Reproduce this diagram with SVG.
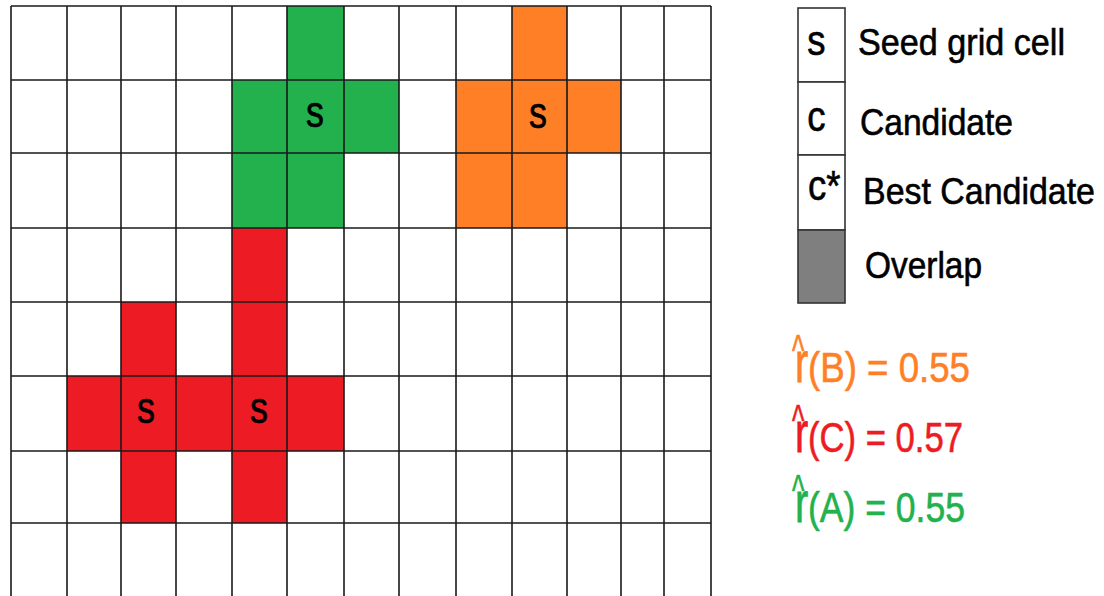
<svg xmlns="http://www.w3.org/2000/svg" width="1104" height="596" viewBox="0 0 1104 596">
<style>
.g{fill:#22B14C}
.o{fill:#FF7F27}
.r{fill:#ED1C24}
.ln{stroke:#1a1a1a;stroke-width:1.6;fill:none}
.t{font-family:"Liberation Sans",Arial,sans-serif;fill:#000;stroke:#000;stroke-width:0.6}
.lb{stroke:#333;stroke-width:1.6}
.fo{fill:#FF7F27;stroke:#FF7F27}
.fr{fill:#ED1C24;stroke:#ED1C24}
.fg{fill:#22B14C;stroke:#22B14C}
</style>
<rect width="1104" height="596" fill="#fff"/>
<g id="region-A">
<rect class="g" x="287" y="6" width="57" height="74"/>
<rect class="g" x="232" y="80" width="167" height="73"/>
<rect class="g" x="232" y="153" width="112" height="75"/>
<text class="t" font-size="45" text-anchor="middle" transform="translate(315,127) scale(0.8,1)">s</text>
</g>
<g id="region-B">
<rect class="o" x="512" y="6" width="55" height="74"/>
<rect class="o" x="456" y="80" width="165" height="73"/>
<rect class="o" x="456" y="153" width="111" height="75"/>
<text class="t" font-size="45" text-anchor="middle" transform="translate(538,128) scale(0.8,1)">s</text>
</g>
<g id="region-C">
<rect class="r" x="232" y="228" width="55" height="148"/>
<rect class="r" x="121" y="302" width="55" height="74"/>
<rect class="r" x="67" y="376" width="277" height="75"/>
<rect class="r" x="121" y="451" width="55" height="72"/>
<rect class="r" x="232" y="451" width="55" height="72"/>
<text class="t" font-size="45" text-anchor="middle" transform="translate(146,423) scale(0.8,1)">s</text>
<text class="t" font-size="45" text-anchor="middle" transform="translate(259,423) scale(0.8,1)">s</text>
</g>
<g id="grid" class="ln">
<path d="M11 6V596M67 6V596M121 6V596M176 6V596M232 6V596M287 6V596M344 6V596M399 6V596M456 6V596M512 6V596M567 6V596M621 6V596M664 6V596M711 6V596"/>
<path d="M11 6H711M11 80H711M11 153H711M11 228H711M11 302H711M11 376H711M11 451H711M11 523H711"/>
</g>
<g id="legend-seed">
<rect class="lb" x="798" y="8" width="47" height="74" fill="#fff"/>
<text class="t" font-size="43" text-anchor="middle" transform="translate(816.5,55) scale(0.85,1)">s</text>
<text class="t" x="858" y="55" font-size="37" textLength="207" lengthAdjust="spacingAndGlyphs">Seed grid cell</text>
</g>
<g id="legend-candidate">
<rect class="lb" x="798" y="82" width="47" height="73" fill="#fff"/>
<text class="t" font-size="43" text-anchor="middle" transform="translate(816.5,131) scale(0.85,1)">c</text>
<text class="t" x="860" y="135" font-size="37" textLength="153" lengthAdjust="spacingAndGlyphs">Candidate</text>
</g>
<g id="legend-best">
<rect class="lb" x="798" y="155" width="47" height="75" fill="#fff"/>
<text class="t" font-size="43" transform="translate(808,200) scale(0.85,1)">c*</text>
<text class="t" x="863" y="204" font-size="37" textLength="232" lengthAdjust="spacingAndGlyphs">Best Candidate</text>
</g>
<g id="legend-overlap">
<rect class="lb" x="798" y="230" width="47" height="73" fill="#7F7F7F"/>
<text class="t" x="865" y="278" font-size="37" textLength="117" lengthAdjust="spacingAndGlyphs">Overlap</text>
</g>
<g id="score-B">
<text class="t fo" font-size="44" transform="translate(792,366) scale(0.6,1)">^</text>
<text class="t fo" font-size="42" transform="translate(795,381.7) scale(0.95,1.35)">r</text>
<text class="t fo" x="808" y="381.7" font-size="42" textLength="162" lengthAdjust="spacingAndGlyphs">(B) = 0.55</text>
</g>
<g id="score-C">
<text class="t fr" font-size="44" transform="translate(792,436) scale(0.6,1)">^</text>
<text class="t fr" font-size="42" transform="translate(795,451.7) scale(0.95,1.35)">r</text>
<text class="t fr" x="808" y="451.7" font-size="42" textLength="155" lengthAdjust="spacingAndGlyphs">(C) = 0.57</text>
</g>
<g id="score-A">
<text class="t fg" font-size="44" transform="translate(792,506) scale(0.6,1)">^</text>
<text class="t fg" font-size="42" transform="translate(795,521.7) scale(0.95,1.35)">r</text>
<text class="t fg" x="808" y="521.7" font-size="42" textLength="157" lengthAdjust="spacingAndGlyphs">(A) = 0.55</text>
</g>
</svg>
